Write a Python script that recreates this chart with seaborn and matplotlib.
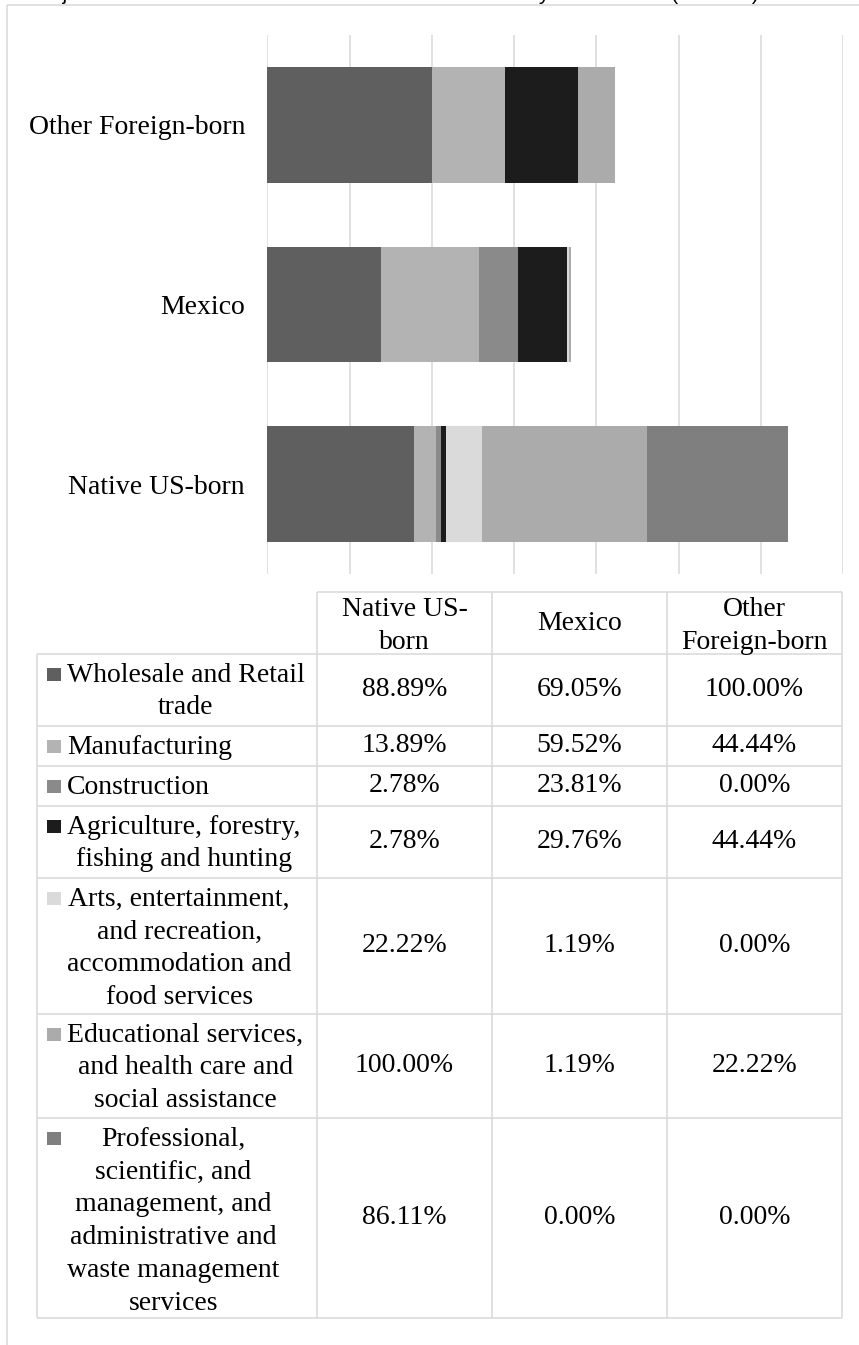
import numpy as np
import pandas as pd
import matplotlib
matplotlib.use("Agg")
import matplotlib.pyplot as plt
from matplotlib.patches import Rectangle
import seaborn as sns

# ---- data -------------------------------------------------------------
groups = ["Native US-born", "Mexico", "Other Foreign-born"]
industries = [
    "Wholesale and Retail\ntrade",
    "Manufacturing",
    "Construction",
    "Agriculture, forestry,\nfishing and hunting",
    "Arts, entertainment,\nand recreation,\naccommodation and\nfood services",
    "Educational services,\nand health care and\nsocial assistance",
    "Professional,\nscientific, and\nmanagement, and\nadministrative and\nwaste management\nservices",
]
native_us = [88.89, 13.89, 2.78, 2.78, 22.22, 100.00, 86.11]
mexico = [69.05, 59.52, 23.81, 29.76, 1.19, 1.19, 0.00]
other_foreign = [100.00, 44.44, 0.00, 44.44, 0.00, 22.22, 0.00]
header_labels = ["Native US-\nborn", "Mexico", "Other\nForeign-born"]
colors = ["#5f5f5f", "#b3b3b3", "#8a8a8a", "#1c1c1c", "#dadada", "#ababab", "#7f7f7f"]
title = "Major Industries of Latino Workers in North Carolina by Birth Status (Percent)"

# ---- style ------------------------------------------------------------
sns.set_theme(style="white")
plt.rcParams["font.family"] = ["Liberation Serif", "DejaVu Serif"]
FS = 20
LS = 1.42
GRID = "#d9d9d9"

W, H, DPI = 859, 1345, 100
fig = plt.figure(figsize=(W / DPI, H / DPI), dpi=DPI)
fig.patch.set_facecolor("white")

# ---- stacked horizontal bars -----------------------------------------
df = pd.DataFrame({"Native US-born": native_us,
                   "Mexico": mexico,
                   "Other Foreign-born": other_foreign}, index=industries)
cum = df.cumsum()
bar_order = groups[::-1]

ax = fig.add_axes([267.3 / W, 1 - 574 / H, (843 - 267.3) / W, (574 - 35) / H])
# draw cumulative totals from the outermost segment inwards
for i in range(len(industries) - 1, -1, -1):
    part = pd.DataFrame({"group": bar_order,
                         "end": [cum.iloc[i][g] for g in bar_order]})
    sns.barplot(data=part, x="end", y="group", order=bar_order, orient="h",
                color=colors[i], saturation=1, width=0.645, linewidth=0,
                errorbar=None, ax=ax, zorder=2)

ax.set_xlim(0, 350)
ax.set_ylim(2.5, -0.5)
ax.set_xticks(np.arange(0, 351, 50))
ax.set_xticklabels([])
ax.set_xlabel("")
ax.set_ylabel("")
ax.tick_params(axis="x", length=0)
ax.tick_params(axis="y", length=0, pad=16, labelsize=FS, labelcolor="black")
ax.set_axisbelow(True)
ax.grid(axis="x", color=GRID, linewidth=1.1)
ax.grid(axis="y", visible=False)
for s in ax.spines.values():
    s.set_visible(False)

# ---- data table with legend keys -------------------------------------
lay = fig.add_axes([0, 0, 1, 1], zorder=-1)
lay.set_xlim(0, W)
lay.set_ylim(H, 0)
lay.axis("off")
lkw = dict(color=GRID, linewidth=1.1, solid_capstyle="butt")

# outer frame
lay.plot([7, W], [5, 5], **lkw)
lay.plot([7, 7], [5, H], **lkw)

tab_left = 37
col_x = [317, 492, 667, 842]
head_top, head_bot = 592, 654
line_h, pad = 32, 8
row_h = [(lab.count("\n") + 1) * line_h + pad for lab in industries]
row_top = head_bot + np.concatenate([[0], np.cumsum(row_h)])
tab_bot = row_top[-1]

lay.plot([col_x[0], col_x[-1]], [head_top, head_top], **lkw)
for x in col_x:
    lay.plot([x, x], [head_top, tab_bot], **lkw)
lay.plot([tab_left, tab_left], [head_bot, tab_bot], **lkw)
for y in row_top:
    lay.plot([tab_left, col_x[-1]], [y, y], **lkw)

col_c = [(col_x[j] + col_x[j + 1]) / 2 for j in range(3)]
for j, lab in enumerate(header_labels):
    if "\n" in lab:
        lay.text(col_c[j], 597, lab, ha="center", va="top", fontsize=FS,
                 multialignment="center", linespacing=LS, color="black")
    else:
        lay.text(col_c[j], (head_top + head_bot) / 2 + 1, lab, ha="center",
                 va="center", fontsize=FS, color="black")

series = [native_us, mexico, other_foreign]
for i, lab in enumerate(industries):
    top, bot = row_top[i], row_top[i + 1]
    lay.add_patch(Rectangle((47, top + 13.5), 13.5, 13.5, facecolor=colors[i],
                            edgecolor="none"))
    lay.text(67, top + 8.5, lab, ha="left", va="top", fontsize=FS,
             multialignment="center", linespacing=LS, color="black")
    for j in range(3):
        lay.text(col_c[j], (top + bot) / 2, f"{series[j][i]:.2f}%",
                 ha="center", va="center", fontsize=FS, color="black")

# chart title sits at the very top edge
fig.text(33 / W, 1 + 0.5 / H, title, ha="left", va="baseline",
         fontsize=15.3, family=["Liberation Sans", "DejaVu Sans"], color="black")

fig.savefig("out.png", dpi=DPI, facecolor="white")
